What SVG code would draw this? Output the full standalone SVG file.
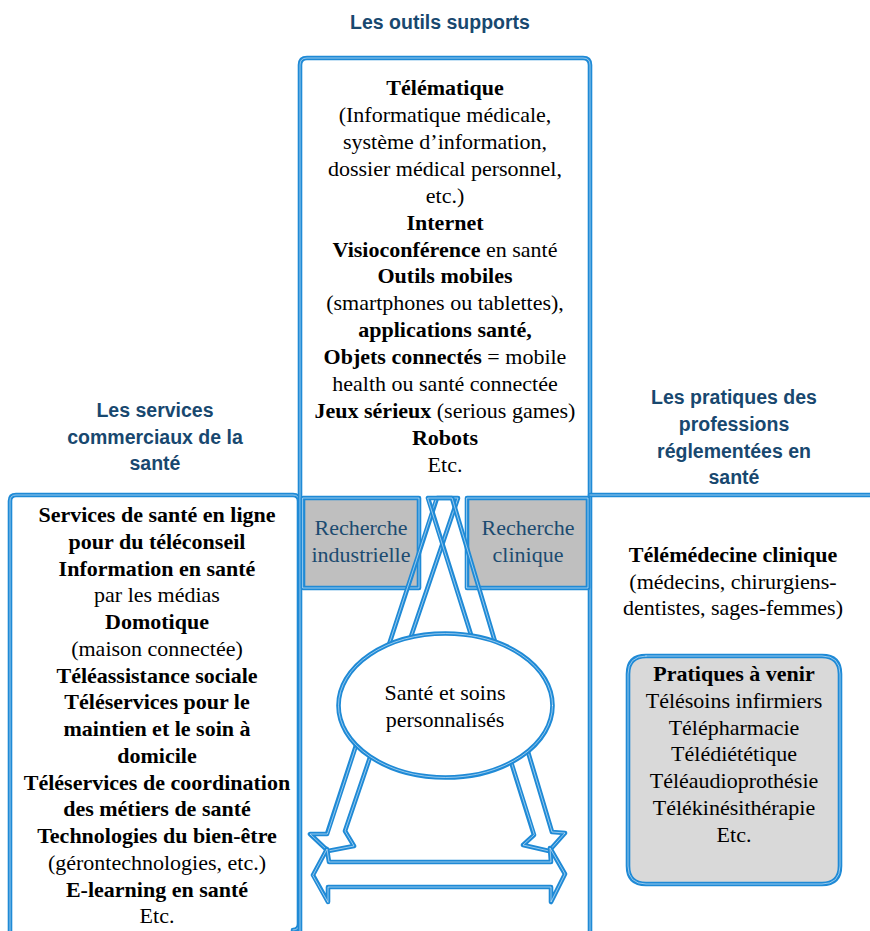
<svg xmlns="http://www.w3.org/2000/svg" xmlns:xlink="http://www.w3.org/1999/xlink" width="870" height="931" viewBox="0 0 870 931">
<style>
.bl{fill:none;stroke:#1f8ad6;stroke-width:4.6;stroke-linejoin:round;stroke-linecap:round}
.wl{fill:none;stroke:#e8f3fc;stroke-width:0.8;stroke-opacity:0.75;stroke-linejoin:round;stroke-linecap:round}
.hd{font-family:"Liberation Sans",Arial,sans-serif;font-weight:bold;font-size:19.5px;fill:#18486f;text-anchor:middle}
.t{font-family:"Liberation Serif","Times New Roman",serif;font-size:22px;fill:#000;text-anchor:middle}
.b{font-weight:bold}
.rc{font-family:"Liberation Serif","Times New Roman",serif;font-size:22px;fill:#1c4b70;text-anchor:middle}
.g1{fill:#bfbfbf}
.g2{fill:#d9d9d9}
</style>
<defs>
<path id="pCenter" d="M300,931 L300,65 Q300,58 307,58 L583,58 Q590,58 590,65 L590,931"/>
<path id="pLeft" d="M10,931 L10,501 Q10,495 16,495 L293,495 Q299,495 299,501 L299,924 Q299,930 293,930"/>
<path id="pHoriz" d="M590,495 L870,495"/>
<path id="pRI" d="M303,498 L419,498 L419,588 L303,588 Z"/>
<path id="pRC" d="M467,498 L588,498 L588,588 L467,588 Z"/>
<path id="pFut" d="M646,656 L822,656 Q840,656 840,674 L840,866 Q840,884 822,884 L646,884 Q628,884 628,866 L628,674 Q628,656 646,656 Z"/>
<path id="aL" d="M437,498 L458,498 L345,831 L354,846 L328,851 L310,834 L327,834 Z"/>
<path id="aR" d="M428,498 L452,498 L552,832 L565,833 L549,851 L523,845 L534,835 Z"/>
<path id="aH" d="M313,875 L327,849 L329,862 L551,862 L550,848 L565,874 L551,902 L551,887 L328,887 L328,902 Z"/>
</defs>

<g id="lines">
<use xlink:href="#pLeft" class="bl"/><use xlink:href="#pLeft" class="wl"/>
<use xlink:href="#pCenter" class="bl"/><use xlink:href="#pCenter" class="wl"/>
<use xlink:href="#pHoriz" class="bl"/><use xlink:href="#pHoriz" class="wl"/>
</g>

<g id="outils-supports">
<text class="hd" x="440" y="29">Les outils supports</text>
<text class="t b" x="445" y="95">Télématique</text>
<text class="t" x="445" y="122">(Informatique médicale,</text>
<text class="t" x="445" y="149">système d’information,</text>
<text class="t" x="445" y="176">dossier médical personnel,</text>
<text class="t" x="445" y="203">etc.)</text>
<text class="t b" x="445" y="230">Internet</text>
<text class="t" x="445" y="257"><tspan class="b">Visioconférence</tspan> en santé</text>
<text class="t b" x="445" y="283">Outils mobiles</text>
<text class="t" x="445" y="310">(smartphones ou tablettes),</text>
<text class="t b" x="445" y="337">applications santé,</text>
<text class="t" x="445" y="364"><tspan class="b">Objets connectés</tspan> = mobile</text>
<text class="t" x="445" y="391">health ou santé connectée</text>
<text class="t" x="445" y="418"><tspan class="b">Jeux sérieux</tspan> (serious games)</text>
<text class="t b" x="445" y="445">Robots</text>
<text class="t" x="445" y="472">Etc.</text>
</g>

<g id="services-commerciaux">
<text class="hd" x="155" y="417">Les services</text>
<text class="hd" x="155" y="444">commerciaux de la</text>
<text class="hd" x="155" y="470">santé</text>
<text class="t b" x="157" y="522">Services de santé en ligne</text>
<text class="t b" x="157" y="549">pour du téléconseil</text>
<text class="t b" x="157" y="576">Information en santé</text>
<text class="t" x="157" y="602">par les médias</text>
<text class="t b" x="157" y="629">Domotique</text>
<text class="t" x="157" y="656">(maison connectée)</text>
<text class="t b" x="157" y="683">Téléassistance sociale</text>
<text class="t b" x="157" y="709">Téléservices pour le</text>
<text class="t b" x="157" y="736">maintien et le soin à</text>
<text class="t b" x="157" y="763">domicile</text>
<text class="t b" x="157" y="790">Téléservices de coordination</text>
<text class="t b" x="157" y="816">des métiers de santé</text>
<text class="t b" x="157" y="843">Technologies du bien-être</text>
<text class="t" x="157" y="870">(gérontechnologies, etc.)</text>
<text class="t b" x="157" y="897">E-learning en santé</text>
<text class="t" x="157" y="923">Etc.</text>
</g>

<g id="pratiques-reglementees">
<text class="hd" x="734" y="404">Les pratiques des</text>
<text class="hd" x="734" y="431">professions</text>
<text class="hd" x="734" y="458">réglementées en</text>
<text class="hd" x="734" y="484">santé</text>
<text class="t b" x="733" y="562">Télémédecine clinique</text>
<text class="t" x="733" y="589">(médecins, chirurgiens-</text>
<text class="t" x="733" y="615">dentistes, sages-femmes)</text>
</g>

<g id="pratiques-a-venir">
<use xlink:href="#pFut" class="g2"/>
<use xlink:href="#pFut" class="bl"/><use xlink:href="#pFut" class="wl"/>
<text class="t b" x="734" y="681">Pratiques à venir</text>
<text class="t" x="734" y="708">Télésoins infirmiers</text>
<text class="t" x="734" y="735">Télépharmacie</text>
<text class="t" x="734" y="761">Télédiététique</text>
<text class="t" x="734" y="788">Téléaudioprothésie</text>
<text class="t" x="734" y="815">Télékinésithérapie</text>
<text class="t" x="734" y="842">Etc.</text>
</g>

<g id="recherche-industrielle">
<use xlink:href="#pRI" class="g1"/>
<use xlink:href="#pRI" class="bl"/><use xlink:href="#pRI" class="wl"/>
<text class="rc" x="361" y="535">Recherche</text>
<text class="rc" x="361" y="562">industrielle</text>
</g>

<g id="recherche-clinique">
<use xlink:href="#pRC" class="g1"/>
<use xlink:href="#pRC" class="bl"/><use xlink:href="#pRC" class="wl"/>
<text class="rc" x="528" y="535">Recherche</text>
<text class="rc" x="528" y="562">clinique</text>
</g>

<g id="connectors">
<use xlink:href="#aL" class="bl"/><use xlink:href="#aL" class="wl"/>
<use xlink:href="#aR" class="bl"/><use xlink:href="#aR" class="wl"/>
<use xlink:href="#aH" class="bl"/><use xlink:href="#aH" class="wl"/>
</g>

<g id="sante-soins">
<ellipse cx="445.5" cy="705.5" rx="107" ry="72" class="bl" style="fill:#fff"/>
<ellipse cx="445.5" cy="705.5" rx="107" ry="72" class="wl"/>
<text class="t" x="445" y="700">Santé et soins</text>
<text class="t" x="445" y="727">personnalisés</text>
</g>
</svg>
